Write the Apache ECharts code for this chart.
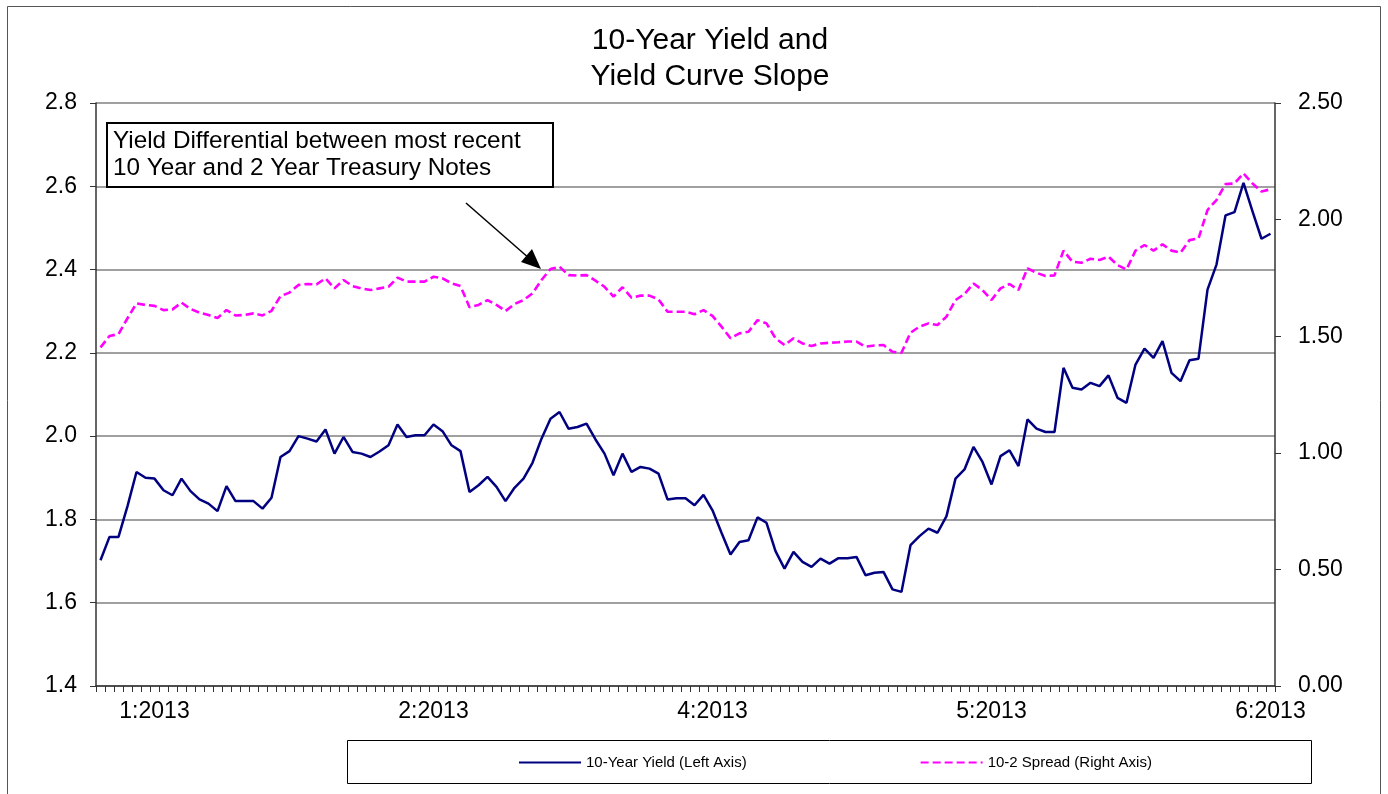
<!DOCTYPE html>
<html>
<head>
<meta charset="utf-8">
<title>10-Year Yield and Yield Curve Slope</title>
<script src="https://cdn.jsdelivr.net/npm/echarts@6/dist/echarts.min.js"></script>
<style>
  html, body { margin: 0; padding: 0; background: #fff; }
  #chart { width: 1388px; height: 794px; }
</style>
</head>
<body>
<div id="chart"></div>
<script>
// 10-year treasury yield (left axis), one value per trading day
var yield10 = [
  1.702, 1.758, 1.758, 1.832, 1.914, 1.900, 1.898, 1.870, 1.858, 1.898,
  1.868, 1.848, 1.838, 1.820, 1.880, 1.844, 1.844, 1.844, 1.826, 1.852,
  1.950, 1.964, 2.000, 1.994, 1.987, 2.016, 1.958, 1.998, 1.962, 1.958,
  1.950, 1.963, 1.978, 2.028, 1.998, 2.002, 2.002, 2.028, 2.012, 1.978,
  1.964, 1.866, 1.882, 1.902, 1.878, 1.844, 1.876, 1.898, 1.936, 1.994,
  2.042, 2.058, 2.018, 2.022, 2.030, 1.992, 1.958, 1.906, 1.958, 1.914,
  1.926, 1.922, 1.910, 1.848, 1.851, 1.851, 1.834, 1.859, 1.822, 1.768,
  1.716, 1.746, 1.750, 1.805, 1.792, 1.724, 1.682, 1.722, 1.698, 1.686,
  1.706, 1.694, 1.707, 1.707, 1.710, 1.666, 1.672, 1.674, 1.632, 1.626,
  1.738, 1.760, 1.778, 1.768, 1.808, 1.898, 1.920, 1.974, 1.938, 1.884,
  1.952, 1.966, 1.928, 2.040, 2.018, 2.010, 2.010, 2.164, 2.116, 2.112,
  2.128, 2.120, 2.146, 2.092, 2.080, 2.172, 2.210, 2.188, 2.228, 2.152,
  2.132, 2.182, 2.186, 2.352, 2.412, 2.530, 2.538, 2.608, 2.540, 2.474,
  2.486
];

// 10-2 year spread (right axis)
var spread = [
  1.452, 1.501, 1.509, 1.577, 1.641, 1.634, 1.630, 1.612, 1.615, 1.644,
  1.617, 1.601, 1.591, 1.578, 1.612, 1.589, 1.591, 1.598, 1.589, 1.609,
  1.672, 1.687, 1.720, 1.724, 1.722, 1.748, 1.705, 1.741, 1.715, 1.705,
  1.698, 1.705, 1.712, 1.751, 1.734, 1.734, 1.734, 1.755, 1.748, 1.727,
  1.715, 1.624, 1.634, 1.655, 1.634, 1.608, 1.638, 1.655, 1.684, 1.741,
  1.788, 1.798, 1.762, 1.760, 1.762, 1.738, 1.712, 1.670, 1.710, 1.665,
  1.674, 1.674, 1.658, 1.605, 1.605, 1.605, 1.594, 1.612, 1.587, 1.541,
  1.491, 1.512, 1.519, 1.569, 1.555, 1.491, 1.462, 1.491, 1.469, 1.458,
  1.469, 1.472, 1.474, 1.477, 1.477, 1.455, 1.460, 1.462, 1.433, 1.429,
  1.515, 1.541, 1.555, 1.548, 1.584, 1.655, 1.681, 1.726, 1.698, 1.655,
  1.705, 1.724, 1.698, 1.791, 1.772, 1.758, 1.761, 1.867, 1.819, 1.815,
  1.832, 1.827, 1.841, 1.805, 1.786, 1.867, 1.891, 1.867, 1.894, 1.867,
  1.858, 1.912, 1.919, 2.041, 2.084, 2.152, 2.155, 2.198, 2.155, 2.120,
  2.130
];

// month labels and the category they sit on
var tickLabels = ['1:2013', '2:2013', '4:2013', '5:2013', '6:2013'];
var labelAt = [6, 37, 68, 99, 130];

var categories = [];
for (var i = 0; i < yield10.length; i++) {
  categories.push(String(i));
}

var FONT = '"Liberation Sans", Arial, sans-serif';

var chart = echarts.init(document.getElementById('chart'));
var option = {
  backgroundColor: '#fff',
  animation: false,
  textStyle: { fontFamily: FONT, color: '#000' },
  title: {
    text: '10-Year Yield and\nYield Curve Slope',
    left: 705,
    top: 18,
    textAlign: 'center',
    textStyle: { fontFamily: FONT, fontSize: 30, fontWeight: 'normal', color: '#000', lineHeight: 36 }
  },
  legend: {
    left: 513,
    top: 750,
    itemWidth: 62,
    itemHeight: 14,
    itemGap: 173,
    itemStyle: { opacity: 0 },
    textStyle: { fontFamily: FONT, fontSize: 15, color: '#000' },
    data: ['10-Year Yield (Left Axis)', '10-2 Spread (Right Axis)']
  },
  grid: { left: 96, right: 113, top: 103, bottom: 108, containLabel: false },
  xAxis: {
    type: 'category',
    data: categories,
    boundaryGap: true,
    axisLine: { lineStyle: { color: '#333', width: 1.5 } },
    axisTick: { show: true, interval: 0, length: 6, lineStyle: { color: '#333', width: 1 } },
    axisLabel: {
      interval: function (idx) { return labelAt.indexOf(idx) >= 0; },
      formatter: function (v, idx) {
        var k = labelAt.indexOf(Number(v));
        return k >= 0 ? tickLabels[k] : '';
      },
      fontFamily: FONT,
      fontSize: 23,
      color: '#000',
      margin: 14
    },
    splitLine: { show: false }
  },
  yAxis: [
    {
      type: 'value',
      min: 1.4,
      max: 2.8,
      interval: 0.2,
      position: 'left',
      axisLine: { show: true, lineStyle: { color: '#333', width: 1.5 } },
      axisTick: { show: true, length: 6, lineStyle: { color: '#333' } },
      axisLabel: {
        formatter: function (v) { return v.toFixed(1); },
        fontFamily: FONT, fontSize: 23, color: '#000', margin: 19
      },
      splitLine: { show: true, lineStyle: { color: '#808080', width: 1.5 } }
    },
    {
      type: 'value',
      min: 0,
      max: 2.5,
      interval: 0.5,
      position: 'right',
      axisLine: { show: true, lineStyle: { color: '#333', width: 1.5 } },
      axisTick: { show: true, length: 6, lineStyle: { color: '#333' } },
      axisLabel: {
        formatter: function (v) { return v.toFixed(2); },
        fontFamily: FONT, fontSize: 23, color: '#000', margin: 23
      },
      splitLine: { show: false }
    }
  ],
  series: [
    {
      name: '10-Year Yield (Left Axis)',
      type: 'line',
      yAxisIndex: 0,
      data: yield10,
      symbol: 'none',
      lineStyle: { color: '#000080', width: 2.5 },
      itemStyle: { color: '#000080' }
    },
    {
      name: '10-2 Spread (Right Axis)',
      type: 'line',
      yAxisIndex: 1,
      data: spread,
      symbol: 'none',
      lineStyle: { color: '#ff00ff', width: 2.6, type: [8, 4] },
      itemStyle: { color: '#ff00ff' }
    }
  ],
  graphic: [
    // outer chart frame
    { type: 'rect', shape: { x: 7.5, y: 6.5, width: 1373, height: 800 },
      style: { fill: null, stroke: '#555', lineWidth: 1 }, silent: true },
    // legend frame
    { type: 'rect', shape: { x: 347.5, y: 740.5, width: 964, height: 43 },
      style: { fill: null, stroke: '#000', lineWidth: 1 }, silent: true },
    // annotation box
    { type: 'rect', shape: { x: 107, y: 123, width: 446, height: 64 },
      style: { fill: '#fff', stroke: '#000', lineWidth: 2 }, z: 10, silent: true },
    { type: 'text', x: 113, y: 128, z: 11, silent: true,
      style: {
        text: 'Yield Differential between most recent\n10 Year and 2 Year Treasury Notes',
        font: '24.3px ' + FONT, fill: '#000', lineHeight: 27,
        textAlign: 'left', textVerticalAlign: 'top'
      } },
    // arrow
    { type: 'line', shape: { x1: 466, y1: 203, x2: 530, y2: 259 },
      style: { stroke: '#000', lineWidth: 1.5 }, z: 10, silent: true },
    { type: 'polygon', shape: { points: [[541, 269], [521, 262], [532, 249]] },
      style: { fill: '#000' }, z: 10, silent: true }
  ]
};
chart.setOption(option);
</script>
</body>
</html>
